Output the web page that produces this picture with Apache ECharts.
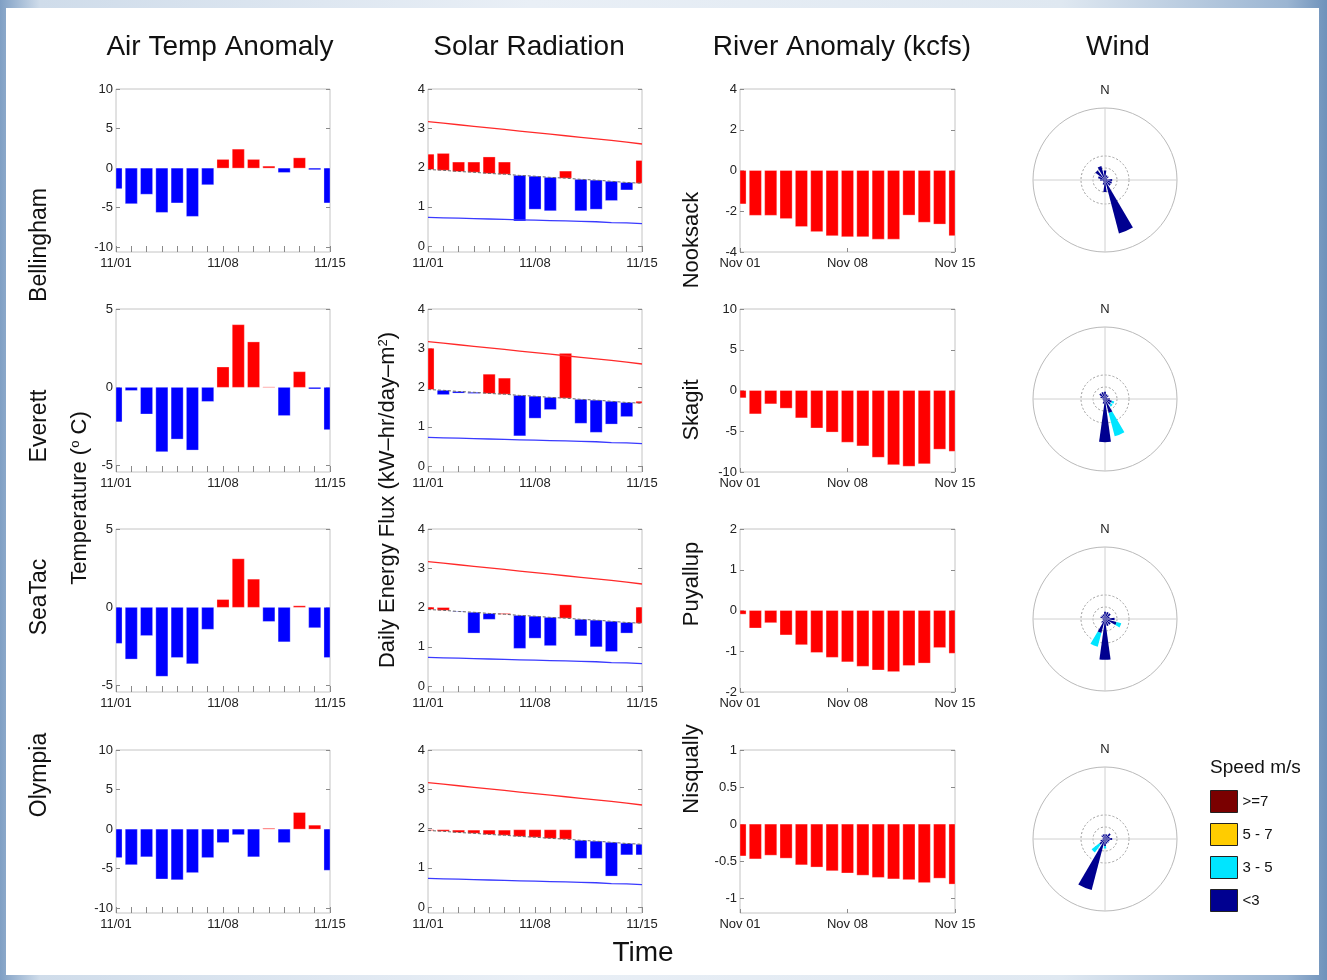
<!DOCTYPE html>
<html>
<head>
<meta charset="utf-8">
<title>November anomalies</title>
<script src="https://cdn.jsdelivr.net/npm/echarts@6/dist/echarts.min.js"></script>
<style>
html, body { margin: 0; padding: 0; }
body { width: 1327px; height: 980px; position: relative; overflow: hidden;
  background: linear-gradient(90deg, #7f9fc4 0%, #cfdcea 3%, #e9eff6 40%, #dfe8f1 80%, #9bb5d2 97%, #6f92bb 100%); }
#paper { position: absolute; left: 6px; top: 8px; width: 1313px; height: 967px; background: #fff; }
#main { position: absolute; left: 0; top: 0; width: 1327px; height: 980px; }
</style>
</head>
<body>
<div id="paper"></div>
<div id="main"></div>
<script>
var days = ['11/01', '11/02', '11/03', '11/04', '11/05', '11/06', '11/07', '11/08', '11/09', '11/10', '11/11', '11/12', '11/13', '11/14', '11/15'];
var riverDays = ['Nov 01', 'Nov 02', 'Nov 03', 'Nov 04', 'Nov 05', 'Nov 06', 'Nov 07', 'Nov 08', 'Nov 09', 'Nov 10', 'Nov 11', 'Nov 12', 'Nov 13', 'Nov 14', 'Nov 15'];
var stations = ['Bellingham', 'Everett', 'SeaTac', 'Olympia'];
var rivers = ['Nooksack', 'Skagit', 'Puyallup', 'Nisqually'];

// air temperature anomaly (deg C)
var airBellingham = [-2.6, -4.5, -3.3, -5.6, -4.4, -6.1, -2.1, 1.1, 2.4, 1.1, 0.25, -0.55, 1.3, -0.2, -4.4];
var airEverett = [-2.2, -0.2, -1.7, -4.1, -3.3, -4.0, -0.9, 1.3, 4.0, 2.9, 0.03, -1.8, 1.0, -0.1, -2.7];
var airSeaTac = [-2.3, -3.3, -1.8, -4.4, -3.2, -3.6, -1.4, 0.5, 3.1, 1.8, -0.9, -2.2, 0.1, -1.3, -3.2];
var airOlympia = [-3.6, -4.5, -3.5, -6.3, -6.4, -5.5, -3.6, -1.7, -0.7, -3.5, 0.1, -1.7, 2.1, 0.5, -5.2];
var airTicks = [[-10, -5, 0, 5, 10], [-5, 0, 5], [-5, 0, 5], [-10, -5, 0, 5, 10]];

// solar radiation (kW-hr/day-m2)
var solarClear = [3.17, 3.13, 3.09, 3.05, 3.01, 2.97, 2.93, 2.89, 2.85, 2.81, 2.77, 2.73, 2.69, 2.65, 2.6];
var solarLow = [0.73, 0.72, 0.71, 0.70, 0.69, 0.68, 0.67, 0.66, 0.65, 0.64, 0.63, 0.62, 0.60, 0.59, 0.57];
var solarMean = [1.95, 1.93, 1.9, 1.88, 1.85, 1.83, 1.8, 1.78, 1.75, 1.73, 1.7, 1.68, 1.65, 1.62, 1.6];
var solarBellingham = [2.34, 2.36, 2.14, 2.14, 2.27, 2.14, 0.64, 0.94, 0.9, 1.91, 0.9, 0.94, 1.16, 1.43, 2.18];
var solarEverett = [3.0, 1.82, 1.86, 1.85, 2.34, 2.24, 0.77, 1.22, 1.44, 2.87, 1.09, 0.86, 1.07, 1.26, 1.65];
var solarSeaTac = [2.01, 2.0, 1.89, 1.35, 1.7, 1.85, 0.96, 1.22, 1.03, 2.07, 1.28, 1.0, 0.88, 1.35, 2.01];
var solarOlympia = [1.97, 1.97, 1.96, 1.96, 1.96, 1.96, 1.97, 1.97, 1.97, 1.97, 1.24, 1.24, 0.79, 1.33, 1.33];
var solarTicks = [0, 1, 2, 3, 4];

// river flow anomaly (kcfs)
var riverNooksack = [-1.64, -2.2, -2.2, -2.36, -2.75, -3.0, -3.2, -3.25, -3.25, -3.37, -3.37, -2.19, -2.54, -2.63, -3.2];
var riverSkagit = [-0.9, -2.87, -1.64, -2.17, -3.36, -4.6, -5.1, -6.35, -6.8, -8.2, -9.1, -9.3, -9.0, -7.2, -7.46];
var riverPuyallup = [-0.09, -0.43, -0.3, -0.6, -0.84, -1.03, -1.15, -1.26, -1.37, -1.46, -1.5, -1.35, -1.29, -0.91, -1.05];
var riverNisqually = [-0.43, -0.47, -0.42, -0.46, -0.55, -0.58, -0.63, -0.66, -0.69, -0.72, -0.74, -0.75, -0.79, -0.73, -0.81];
var riverTicks = [[-4, -2, 0, 2, 4], [-10, -5, 0, 5, 10], [-2, -1, 0, 1, 2], [-1, -0.5, 0, 0.5, 1]];

// wind rose: frequency per direction, one row per speed class
var directions = ['N', 'NNE', 'NE', 'ENE', 'E', 'ESE', 'SE', 'SSE', 'S', 'SSW', 'SW', 'WSW', 'W', 'WNW', 'NW', 'NNW'];
var speedClasses = ['<3', '3 - 5', '5 - 7', '>=7'];
var windBellingham = [
	[4, 2, 2, 1, 3, 3, 3, 23, 5, 2, 1, 1, 2, 3, 5, 6],
	[0, 0, 0, 0, 0, 0, 0, 0, 0, 0, 0, 0, 0, 0, 0, 0],
	[0, 0, 0, 0, 0, 0, 0, 0, 0, 0, 0, 0, 0, 0, 0, 0],
	[0, 0, 0, 0, 0, 0, 0, 0, 0, 0, 0, 0, 0, 0, 0, 0]
];
var windEverett = [
	[3, 2, 2, 1, 2, 3, 3, 6, 18, 2, 1, 1, 1, 2, 3, 3],
	[0, 0, 0, 0, 0, 1, 1, 10, 0, 0, 0, 0, 0, 0, 0, 0],
	[0, 0, 0, 0, 0, 0, 0, 0, 0, 0, 0, 0, 0, 0, 0, 0],
	[0, 0, 0, 0, 0, 0, 0, 0, 0, 0, 0, 0, 0, 0, 0, 0]
];
var windSeaTac = [
	[3, 3, 3, 2, 4, 5, 3, 3, 17, 6, 2, 1, 1, 2, 2, 2],
	[0, 0, 0, 0, 0, 2, 0, 0, 0, 6, 0, 0, 0, 0, 0, 0],
	[0, 0, 0, 0, 0, 0, 0, 0, 0, 0, 0, 0, 0, 0, 0, 0],
	[0, 0, 0, 0, 0, 0, 0, 0, 0, 0, 0, 0, 0, 0, 0, 0]
];
var windOlympia = [
	[2, 2, 3, 2, 3, 2, 2, 2, 3, 22, 3, 2, 1, 1, 2, 2],
	[0, 0, 0, 0, 0, 0, 0, 0, 1, 0, 4, 0, 0, 0, 0, 0],
	[0, 0, 0, 0, 0, 0, 0, 0, 0, 0, 0, 0, 0, 0, 0, 0],
	[0, 0, 0, 0, 0, 0, 0, 0, 0, 0, 0, 0, 0, 0, 0, 0]
];
var windRings = [5, 10];
var windMax = 30;

var RED = '#ff0000';
var BLUE = '#0000ff';
var speedColors = ['#000090', '#00e5ff', '#ffcc00', '#7a0000'];
var FONT = 'Liberation Sans, Arial, sans-serif';

var chart = echarts.init(document.getElementById('main'), null, { renderer: 'canvas' });

var rowTops = [89, 309, 529, 750];
var rowH = 163;
var colLeft = [116, 428, 740];
var colW = [214, 214, 215];
var roseY = [180, 399, 619, 839];

var grids = [], xAxes = [], yAxes = [], series = [], polars = [], angleAxes = [], radiusAxes = [];

function addPanel(col, row, cats, ymin, ymax, ticks, dailyTicks) {
	var gi = grids.length;
	grids.push({
		left: colLeft[col], top: rowTops[row], width: colW[col], height: rowH,
		show: true, borderColor: '#c4c4c4', borderWidth: 1, backgroundColor: 'transparent'
	});
	var keep = function(i) { return i === 0 || i === 7 || i === 14; };
	xAxes.push({
		gridIndex: gi, type: 'category', data: cats, boundaryGap: false,
		axisLine: { show: false, onZero: false },
		axisTick: { show: true, inside: true, length: dailyTicks ? 6 : 4, interval: dailyTicks ? 0 : keep,
			lineStyle: { color: '#8a8a8a' } },
		axisLabel: { interval: keep, fontSize: 13, color: '#222', margin: 5, fontFamily: FONT },
		splitLine: { show: false }
	});
	var yl = {
		gridIndex: gi, type: 'value', min: ymin, max: ymax, position: 'left',
		axisLine: { show: false },
		axisTick: { show: true, inside: true, length: 4, customValues: ticks, lineStyle: { color: '#8a8a8a' } },
		axisLabel: { customValues: ticks, fontSize: 13, color: '#222', margin: 3, fontFamily: FONT },
		splitLine: { show: false }
	};
	var yr = {
		gridIndex: gi, type: 'value', min: ymin, max: ymax, position: 'right',
		axisLine: { show: false },
		axisTick: { show: true, inside: true, length: 4, customValues: ticks, lineStyle: { color: '#8a8a8a' } },
		axisLabel: { show: false },
		splitLine: { show: false }
	};
	yAxes.push(yl);
	yAxes.push(yr);
	return { x: gi, y: yAxes.length - 2 };
}

// bars from value[1] to value[2]; the first and last days get cut by the box like in matlab
function floatBar(colorOf) {
	return function(params, api) {
		var i = api.value(0), from = api.value(1), to = api.value(2);
		var a = api.coord([i, from]);
		var b = api.coord([i, to]);
		var w = api.size([1, 0])[0] * 0.79;
		var cs = params.coordSys;
		var shape = echarts.graphic.clipRectByRect({
			x: a[0] - w / 2, y: Math.min(a[1], b[1]), width: w, height: Math.abs(b[1] - a[1])
		}, { x: cs.x, y: cs.y, width: cs.width, height: cs.height });
		if (!shape) return;
		return {
			type: 'rect', shape: shape,
			style: { fill: colorOf(from, to), stroke: 'rgba(255,255,255,0.6)', lineWidth: 0.5 }
		};
	};
}
var bySign = floatBar(function(from, to) { return to >= from ? RED : BLUE; });
var allRed = floatBar(function() { return RED; });

function spans(base, vals) {
	return vals.map(function(v, i) {
		return [i, typeof base === 'number' ? base : base[i], v];
	});
}

// air temperature column
var airSets = [airBellingham, airEverett, airSeaTac, airOlympia];
var airRange = [[-10.6, 10], [-5.4, 5], [-5.4, 5], [-10.6, 10]];
airSets.forEach(function(vals, r) {
	var ax = addPanel(0, r, days, airRange[r][0], airRange[r][1], airTicks[r], true);
	series.push({
		name: 'air ' + stations[r], type: 'custom', xAxisIndex: ax.x, yAxisIndex: ax.y,
		renderItem: bySign, data: spans(0, vals), encode: { x: 0, y: [1, 2] }, z: 2
	});
});

// solar column: floating bars from the mean line to the daily value
var solarSets = [solarBellingham, solarEverett, solarSeaTac, solarOlympia];
solarSets.forEach(function(vals, r) {
	var ax = addPanel(1, r, days, -0.15, 4, solarTicks, true);
	series.push({
		name: 'solar ' + stations[r], type: 'custom', xAxisIndex: ax.x, yAxisIndex: ax.y,
		renderItem: bySign, data: spans(solarMean, vals), encode: { x: 0, y: [1, 2] }, z: 2
	});
	series.push({
		name: 'clear ' + r, type: 'line', xAxisIndex: ax.x, yAxisIndex: ax.y, data: solarClear,
		symbol: 'none', lineStyle: { color: '#ff2a2a', width: 1.3 }, z: 3
	});
	series.push({
		name: 'low ' + r, type: 'line', xAxisIndex: ax.x, yAxisIndex: ax.y, data: solarLow,
		symbol: 'none', lineStyle: { color: '#3a3aff', width: 1.3 }, z: 3
	});
	series.push({
		name: 'mean ' + r, type: 'line', xAxisIndex: ax.x, yAxisIndex: ax.y, data: solarMean,
		symbol: 'none', lineStyle: { color: '#666', width: 1, type: [3, 2] }, z: 4
	});
});

// river column, all below normal and drawn red
var riverSets = [riverNooksack, riverSkagit, riverPuyallup, riverNisqually];
var riverRange = [[-4, 4], [-10, 10], [-2, 2], [-1.2, 1]];
riverSets.forEach(function(vals, r) {
	var ax = addPanel(2, r, riverDays, riverRange[r][0], riverRange[r][1], riverTicks[r], false);
	series.push({
		name: 'river ' + rivers[r], type: 'custom', xAxisIndex: ax.x, yAxisIndex: ax.y,
		renderItem: allRed, data: spans(0, vals), encode: { x: 0, y: [1, 2] }, z: 2
	});
});

// wind roses
var windSets = [windBellingham, windEverett, windSeaTac, windOlympia];
windSets.forEach(function(rows, r) {
	polars.push({ center: [1105, roseY[r]], radius: 72 });
	angleAxes.push({
		polarIndex: r, type: 'category', data: directions, startAngle: 90 + 11.25, clockwise: true,
		axisLine: { show: true, lineStyle: { color: '#b9b9b9', width: 1 } },
		axisTick: { show: false },
		axisLabel: { margin: 11, fontSize: 13, color: '#222', fontFamily: FONT,
			formatter: function(v) { return v === 'N' ? 'N' : ''; } },
		splitLine: { show: false }
	});
	radiusAxes.push({
		polarIndex: r, type: 'value', min: 0, max: windMax,
		axisLine: { show: false }, axisLabel: { show: false },
		axisTick: { show: false, customValues: windRings },
		splitLine: { show: true, lineStyle: { color: '#9a9a9a', width: 1, type: [2, 2] } }
	});
	// compass cross
	series.push({
		name: 'cross v' + r, type: 'line', coordinateSystem: 'polar', polarIndex: r,
		data: [[windMax, 'N'], [0, 'N'], [windMax, 'S']], symbol: 'none', silent: true,
		lineStyle: { color: '#d0d0d0', width: 1 }, z: 1
	});
	series.push({
		name: 'cross h' + r, type: 'line', coordinateSystem: 'polar', polarIndex: r,
		data: [[windMax, 'E'], [0, 'E'], [windMax, 'W']], symbol: 'none', silent: true,
		lineStyle: { color: '#d0d0d0', width: 1 }, z: 1
	});
	rows.forEach(function(vals, k) {
		series.push({
			name: speedClasses[k], type: 'bar', coordinateSystem: 'polar', polarIndex: r,
			stack: 'wind' + r, data: vals, barCategoryGap: '30%',
			itemStyle: { color: speedColors[k] }, z: 3
		});
	});
});

function vtext(txt, x, y, size, rich) {
	return {
		type: 'text', x: x, y: y, rotation: Math.PI / 2,
		style: { text: txt, fontSize: size, fontFamily: FONT, fill: '#111', align: 'center',
			verticalAlign: 'middle', rich: rich }
	};
}
function htext(txt, x, y, size) {
	return {
		type: 'text', x: x, y: y,
		style: { text: txt, fontSize: size, fontFamily: FONT, fill: '#111', align: 'center', verticalAlign: 'middle' }
	};
}

var sup = {
	a: { fontSize: 22, fontFamily: FONT, fill: '#111' },
	s: { fontSize: 13, fontFamily: FONT, fill: '#111', verticalAlign: 'top', padding: [0, 0, 10, 0] }
};

var graphics = [
	htext('Air Temp Anomaly', 220, 47, 28),
	htext('Solar Radiation', 529, 47, 28),
	htext('River Anomaly (kcfs)', 842, 47, 28),
	htext('Wind', 1118, 47, 28),
	htext('Time', 643, 953, 28),
	vtext('Bellingham', 40, 245, 23),
	vtext('Everett', 40, 426, 23),
	vtext('SeaTac', 40, 597, 23),
	vtext('Olympia', 40, 775, 23),
	vtext('{a|Temperature (}{s|o}{a| C)}', 80, 498, 22, sup),
	vtext('{a|Daily Energy Flux (kW\u2013hr/day\u2013m}{s|2}{a|)}', 388, 500, 22, sup),
	vtext('Nooksack', 692, 240, 22),
	vtext('Skagit', 692, 410, 22),
	vtext('Puyallup', 692, 584, 22),
	vtext('Nisqually', 692, 769, 22),
	{ type: 'text', x: 1210, y: 768, style: { text: 'Speed m/s', fontSize: 19, fontFamily: FONT, fill: '#111',
		align: 'left', verticalAlign: 'middle' } }
];

var option = {
	animation: false,
	backgroundColor: 'transparent',
	textStyle: { fontFamily: FONT },
	legend: {
		data: ['>=7', '5 - 7', '3 - 5', '<3'],
		orient: 'vertical', left: 1205, top: 785,
		itemWidth: 27, itemHeight: 22, itemGap: 10, icon: 'rect',
		itemStyle: { borderColor: '#222', borderWidth: 1 },
		textStyle: { fontSize: 15, color: '#111' },
		selectedMode: false
	},
	grid: grids,
	xAxis: xAxes,
	yAxis: yAxes,
	polar: polars,
	angleAxis: angleAxes,
	radiusAxis: radiusAxes,
	series: series,
	graphic: graphics
};
chart.setOption(option);
window.onresize = chart.resize;
</script>
</body>
</html>
